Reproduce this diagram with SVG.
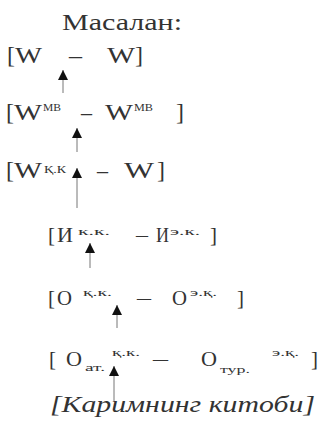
<svg xmlns="http://www.w3.org/2000/svg" width="325" height="432" viewBox="0 0 325 432">
<defs>
<style>
.t{font-family:"Liberation Serif","DejaVu Serif",serif;fill:#333;}
.m{font-size:24px;}
.n{font-size:21px;}
.s{font-size:11px;}
.i{font-style:italic;font-size:24px;}
.sh{stroke:#777;stroke-width:1;fill:none;}
</style>
<marker id="ah" markerUnits="userSpaceOnUse" markerWidth="10" markerHeight="11" refX="10" refY="5" orient="auto">
<path d="M0,0 L10,5 L0,10 z" fill="#111"/>
</marker>
</defs>
<rect width="325" height="432" fill="#fff"/>
<g id="title"><text class="t" x="62" y="30" font-size="23" textLength="120" lengthAdjust="spacingAndGlyphs">Масалан:</text></g>
<g id="n1" class="t m">
<text x="7" y="63">[</text><text x="15" y="63" textLength="27" lengthAdjust="spacingAndGlyphs">W</text>
<text x="69" y="63" textLength="13" lengthAdjust="spacingAndGlyphs">–</text>
<text x="107" y="63" textLength="28" lengthAdjust="spacingAndGlyphs">W</text><text x="135" y="63">]</text>
</g>
<g id="n2" class="t">
<text class="m" x="6" y="120">[</text><text class="m" x="14" y="120" textLength="28" lengthAdjust="spacingAndGlyphs">W</text>
<text class="s" x="43" y="111" textLength="18" lengthAdjust="spacingAndGlyphs">МВ</text>
<text class="m" x="81" y="120" textLength="11" lengthAdjust="spacingAndGlyphs">–</text>
<text class="m" x="105" y="120" textLength="28" lengthAdjust="spacingAndGlyphs">W</text>
<text class="s" x="134" y="111" textLength="19" lengthAdjust="spacingAndGlyphs">МВ</text>
<text class="m" x="176" y="120">]</text>
</g>
<g id="n3" class="t">
<text class="m" x="6" y="178">[</text><text class="m" x="14" y="178" textLength="28" lengthAdjust="spacingAndGlyphs">W</text>
<text class="s" x="44" y="173" textLength="22" lengthAdjust="spacingAndGlyphs">Қ.К</text>
<text class="m" x="97" y="178" textLength="11" lengthAdjust="spacingAndGlyphs">–</text>
<text class="m" x="124" y="178" textLength="30" lengthAdjust="spacingAndGlyphs">W</text>
<text class="m" x="157" y="178">]</text>
</g>
<g id="n4" class="t">
<text class="n" x="48" y="242">[</text><text class="n" x="57" y="242" textLength="16" lengthAdjust="spacingAndGlyphs">И</text>
<text class="s" x="78" y="235" textLength="32" lengthAdjust="spacingAndGlyphs">к.к.</text>
<text class="n" x="136" y="242" textLength="12" lengthAdjust="spacingAndGlyphs">–</text>
<text class="n" x="156" y="242" textLength="13" lengthAdjust="spacingAndGlyphs">И</text>
<text class="s" x="170" y="235" textLength="30" lengthAdjust="spacingAndGlyphs">э.к.</text>
<text class="n" x="210" y="242">]</text>
</g>
<g id="n5" class="t">
<text class="n" x="48" y="305">[</text><text class="n" x="57" y="305" textLength="15" lengthAdjust="spacingAndGlyphs">О</text>
<text class="s" x="83" y="296" textLength="29" lengthAdjust="spacingAndGlyphs">қ.к.</text>
<text class="n" x="137" y="305" textLength="14" lengthAdjust="spacingAndGlyphs">–</text>
<text class="n" x="172" y="305" textLength="15" lengthAdjust="spacingAndGlyphs">О</text>
<text class="s" x="190" y="296" textLength="27" lengthAdjust="spacingAndGlyphs">э.қ.</text>
<text class="n" x="237" y="305">]</text>
</g>
<g id="n6" class="t">
<text class="n" x="49" y="366">[</text><text class="n" x="66" y="366" textLength="16" lengthAdjust="spacingAndGlyphs">О</text>
<text class="s" x="85" y="371" textLength="20" lengthAdjust="spacingAndGlyphs">ат.</text>
<text class="s" x="112" y="356" textLength="28" lengthAdjust="spacingAndGlyphs">қ.к.</text>
<text class="n" x="153" y="366" textLength="15" lengthAdjust="spacingAndGlyphs">–</text>
<text class="n" x="201" y="366" textLength="16" lengthAdjust="spacingAndGlyphs">О</text>
<text class="s" x="220" y="373" textLength="30" lengthAdjust="spacingAndGlyphs">тур.</text>
<text class="s" x="272" y="356" textLength="27" lengthAdjust="spacingAndGlyphs">э.қ.</text>
<text class="n" x="311" y="366">]</text>
</g>
<g id="n7" class="t"><text class="i" x="50" y="412" textLength="265" lengthAdjust="spacingAndGlyphs">[Каримнинг китоби]</text></g>
<g id="connectors" class="sh">
<line x1="63" y1="93" x2="63" y2="70" marker-end="url(#ah)"/>
<line x1="77" y1="152" x2="77" y2="128" marker-end="url(#ah)"/>
<line x1="77" y1="208" x2="77" y2="168" marker-end="url(#ah)"/>
<line x1="90" y1="268" x2="90" y2="243" marker-end="url(#ah)"/>
<line x1="117" y1="328" x2="117" y2="305" marker-end="url(#ah)"/>
<line x1="114" y1="401" x2="114" y2="366" marker-end="url(#ah)"/>
</g>
</svg>
